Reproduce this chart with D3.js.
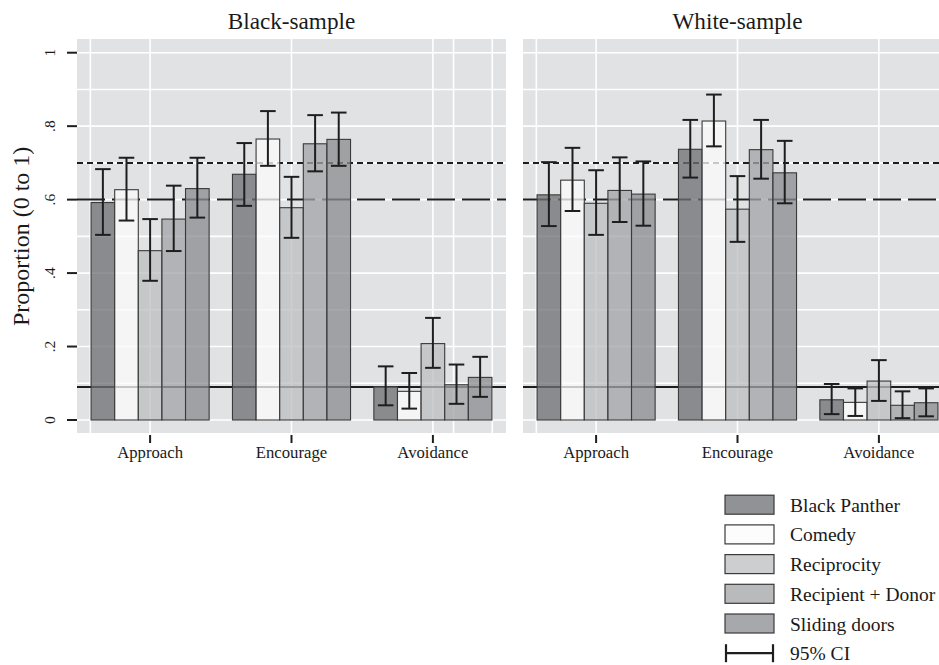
<!DOCTYPE html>
<html>
<head>
<meta charset="utf-8">
<script src="https://cdn.jsdelivr.net/npm/d3@7"></script>
<style>
  html, body { margin: 0; padding: 0; background: #ffffff; }
  svg { display: block; }
  text { font-family: "Liberation Serif", "Times New Roman", serif; fill: #1a1a1a; }
</style>
</head>
<body>
<svg id="chart" width="939" height="665"></svg>
<script>
// ---------------- data ----------------
const categories = ["Approach", "Encourage", "Avoidance"];
const seriesNames = ["Black Panther", "Comedy", "Reciprocity", "Recipient + Donor", "Sliding doors"];
const panelTitles = ["Black-sample", "White-sample"];

// rows = categories, columns = series
const blackMean = [[0.592, 0.627, 0.461, 0.547, 0.630],
                   [0.669, 0.765, 0.578, 0.752, 0.764],
                   [0.091, 0.078, 0.208, 0.096, 0.116]];
const blackLow  = [[0.504, 0.543, 0.379, 0.460, 0.551],
                   [0.583, 0.692, 0.496, 0.677, 0.692],
                   [0.040, 0.031, 0.142, 0.044, 0.063]];
const blackHigh = [[0.683, 0.714, 0.547, 0.638, 0.714],
                   [0.754, 0.841, 0.662, 0.830, 0.837],
                   [0.146, 0.128, 0.278, 0.151, 0.172]];

const whiteMean = [[0.613, 0.653, 0.590, 0.625, 0.615],
                   [0.737, 0.814, 0.574, 0.736, 0.673],
                   [0.055, 0.048, 0.106, 0.040, 0.047]];
const whiteLow  = [[0.528, 0.569, 0.504, 0.539, 0.529],
                   [0.660, 0.745, 0.485, 0.657, 0.590],
                   [0.016, 0.011, 0.052, 0.005, 0.010]];
const whiteHigh = [[0.702, 0.741, 0.680, 0.715, 0.704],
                   [0.817, 0.886, 0.664, 0.817, 0.760],
                   [0.098, 0.086, 0.163, 0.078, 0.086]];

const yTickValues = [0, 0.2, 0.4, 0.6, 0.8, 1];
const yTickLabels = ["0", ".2", ".4", ".6", ".8", "1"];
const refValues = [0.7, 0.6, 0.09];
const ciLabel = "95% CI";

// ---------------- styles ----------------
const seriesFill = ["#6f7074", "#fbfbfb", "#bdbec0", "#a3a4a7", "#8b8c90"];
const refDash = ["6,4", "28,7", null];
const panelBg = "#e1e2e4";
const barOpacity = 0.76;

const svg = d3.select("#chart");

const panelW = 429;
const panelTop = 39, panelBottom = 433;
const panelLefts = [77, 523];

const y = d3.scaleLinear().domain([0, 1]).range([420, 52.7]);

const panels = [
  {mean: blackMean, low: blackLow, high: blackHigh, extraGrid: [-0.4225, 2.146, 2.42]},
  {mean: whiteMean, low: whiteLow, high: whiteHigh, extraGrid: [-0.4225]}
];

panels.forEach((p, pi) => {
  const g = svg.append("g").attr("transform", `translate(${panelLefts[pi]},0)`);
  const x = d3.scalePoint().domain(categories).range([0, panelW]).padding(0.517);
  const step = x.step();
  const xi = d3.scaleLinear().domain([0, 2]).range([x(categories[0]), x(categories[2])]);
  const barW = step * 0.167;

  // background
  g.append("rect").attr("x", 0).attr("y", panelTop).attr("width", panelW)
    .attr("height", panelBottom - panelTop).attr("fill", panelBg);

  // horizontal gridlines
  g.selectAll("line.hgrid").data(d3.range(0, 11).map(d => d / 10)).join("line")
    .attr("x1", 0).attr("x2", panelW)
    .attr("y1", d => y(d)).attr("y2", d => y(d))
    .attr("stroke", "#ffffff").attr("stroke-width", 1.6);

  // vertical gridlines
  const vg = [0, 1, 2].concat(p.extraGrid);
  g.selectAll("line.vgrid").data(vg).join("line")
    .attr("x1", d => xi(d)).attr("x2", d => xi(d))
    .attr("y1", panelTop).attr("y2", panelBottom)
    .attr("stroke", "#ffffff").attr("stroke-width", 1.6);

  // reference lines
  refValues.forEach((v, i) => {
    g.append("line").attr("x1", 0).attr("x2", panelW)
      .attr("y1", y(v)).attr("y2", y(v))
      .attr("stroke", "#1e1e1e").attr("stroke-width", 2)
      .attr("stroke-dasharray", refDash[i]);
  });

  // bars
  categories.forEach((c, ci) => {
    const cx = x(c);
    seriesNames.forEach((s, si) => {
      const bx = cx + (si - 2.5) * barW;
      g.append("rect")
        .attr("x", bx).attr("width", barW)
        .attr("y", y(p.mean[ci][si])).attr("height", y(0) - y(p.mean[ci][si]))
        .attr("fill", seriesFill[si]).attr("fill-opacity", barOpacity)
        .attr("stroke", "#3a3a3a").attr("stroke-width", 1.1);
    });
  });

  // error bars
  const capW = barW * 0.66;
  categories.forEach((c, ci) => {
    const cx = x(c);
    seriesNames.forEach((s, si) => {
      const mx = cx + (si - 2) * barW;
      const lo = y(p.low[ci][si]), hi = y(p.high[ci][si]);
      const eg = g.append("g").attr("stroke", "#1e1e1e").attr("stroke-width", 2);
      eg.append("line").attr("x1", mx).attr("x2", mx).attr("y1", lo).attr("y2", hi);
      eg.append("line").attr("x1", mx - capW / 2).attr("x2", mx + capW / 2).attr("y1", lo).attr("y2", lo);
      eg.append("line").attr("x1", mx - capW / 2).attr("x2", mx + capW / 2).attr("y1", hi).attr("y2", hi);
    });
  });

  // x ticks and labels
  categories.forEach(c => {
    g.append("line").attr("x1", x(c)).attr("x2", x(c))
      .attr("y1", 435).attr("y2", 443).attr("stroke", "#1e1e1e").attr("stroke-width", 2);
    g.append("text").attr("x", x(c)).attr("y", 458).attr("text-anchor", "middle")
      .attr("font-size", 16.7).text(c);
  });

  // panel title
  g.append("text").attr("x", panelW / 2).attr("y", 29.3).attr("text-anchor", "middle")
    .attr("font-size", 23.2).text(panelTitles[pi]);
});

// y axis (left panel only)
const ya = svg.append("g");
yTickValues.forEach((v, i) => {
  ya.append("line").attr("x1", 67).attr("x2", 77).attr("y1", y(v)).attr("y2", y(v))
    .attr("stroke", "#1e1e1e").attr("stroke-width", 2);
  ya.append("text")
    .attr("transform", `translate(55,${y(v)}) rotate(-90)`)
    .attr("text-anchor", "middle").attr("font-size", 15.5).text(yTickLabels[i]);
});
svg.append("text")
  .attr("transform", `translate(29,${(y(0) + y(1)) / 2}) rotate(-90)`)
  .attr("text-anchor", "middle").attr("font-size", 24).text("Proportion (0 to 1)");

// legend
const lg = svg.append("g");
const lx = 725, lw = 49, lh = 19, ly0 = 504.7, lstep = 29.7;
seriesNames.forEach((s, i) => {
  const cy = ly0 + i * lstep;
  lg.append("rect").attr("x", lx).attr("y", cy - lh / 2).attr("width", lw).attr("height", lh)
    .attr("fill", seriesFill[i]).attr("fill-opacity", barOpacity)
    .attr("stroke", "#3a3a3a").attr("stroke-width", 1.2);
  lg.append("text").attr("x", 790).attr("y", cy + 7).attr("font-size", 19.5).text(s);
});
{
  const cy = ly0 + 5 * lstep;
  const cg = lg.append("g").attr("stroke", "#1e1e1e").attr("stroke-width", 2.2);
  cg.append("line").attr("x1", lx + 1).attr("x2", lx + lw - 1).attr("y1", cy).attr("y2", cy);
  cg.append("line").attr("x1", lx + 1).attr("x2", lx + 1).attr("y1", cy - 9).attr("y2", cy + 9);
  cg.append("line").attr("x1", lx + lw - 1).attr("x2", lx + lw - 1).attr("y1", cy - 9).attr("y2", cy + 9);
  lg.append("text").attr("x", 790).attr("y", cy + 7).attr("font-size", 19.5).text(ciLabel);
}
</script>
</body>
</html>
